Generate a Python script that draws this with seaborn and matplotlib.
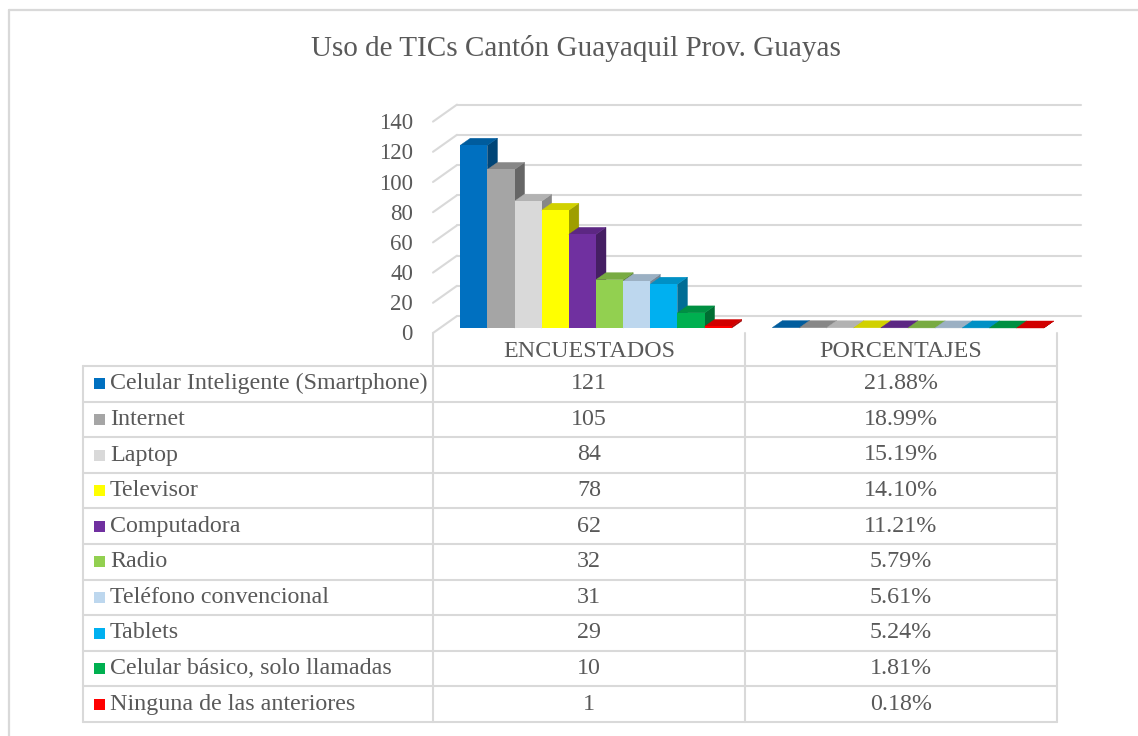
import numpy as np
import pandas as pd
import matplotlib
matplotlib.use("Agg")
import matplotlib.pyplot as plt
import matplotlib.colors as mcolors
import seaborn as sns
from matplotlib.patches import Polygon, Rectangle
from matplotlib.lines import Line2D
from matplotlib.transforms import IdentityTransform

# ---------------- data ----------------
title = "Uso de TICs Cantón Guayaquil Prov. Guayas"
series_names = ["ENCUESTADOS", "PORCENTAJES"]
items = [
    "Celular Inteligente (Smartphone)",
    "Internet",
    "Laptop",
    "Televisor",
    "Computadora",
    "Radio",
    "Teléfono convencional",
    "Tablets",
    "Celular básico, solo llamadas",
    "Ninguna de las anteriores",
]
encuestados = [121, 105, 84, 78, 62, 32, 31, 29, 10, 1]
porcentajes = [0.2188, 0.1899, 0.1519, 0.1410, 0.1121, 0.0579, 0.0561, 0.0524, 0.0181, 0.0018]
colors = ["#0070C0", "#A5A5A5", "#D9D9D9", "#FFFF00", "#7030A0",
          "#92D050", "#BDD7EE", "#00B0F0", "#00B050", "#FF0000"]
yticks = [0, 20, 40, 60, 80, 100, 120, 140]

# ---------------- setup ----------------
W, H = 1138, 736
sns.set_theme(style="white")
plt.rcParams['font.family'] = ['Liberation Serif', 'DejaVu Serif']
TXT = "#595959"
GRID = "#d9d9d9"
FS_TICK = 16.5
FS = 17.3

fig = plt.figure(figsize=(W / 100, H / 100), dpi=100)
fig.patch.set_facecolor("white")
I = IdentityTransform()

# axes in the plane of the bars' front faces
ax_l, ax_r, ax_b, scale = 440, 1064, 328, 1.51
ax_h = 140 * scale
ax = fig.add_axes([ax_l / W, (H - ax_b) / H, (ax_r - ax_l) / W, ax_h / H])

df = pd.DataFrame({
    "serie": np.repeat(series_names, len(items)),
    "item": items * 2,
    "valor": list(encuestados) + list(porcentajes),
})
sns.barplot(data=df, x="serie", y="valor", hue="item", order=series_names,
            hue_order=items, palette=colors, saturation=1, width=0.87,
            dodge=True, legend=False, linewidth=0, ax=ax, errorbar=None)
ax.set_xlim(-0.5, 1.5)
ax.set_ylim(0, 140)
ax.axis("off")

# depth offsets (display px): bar depth, front plane, back wall
BDX, BDY = 10, 7
FDX, FDY = -7, -5
WDX, WDY = 17, 12

xl = ax.transAxes.transform((0, 0))[0]
xr = ax.transAxes.transform((1, 0))[0]

# gridlines & tick labels
for v in yticks:
    yd = ax.transData.transform((0, v))[1]
    fig.add_artist(Line2D([xl + WDX, xr + WDX], [yd + WDY, yd + WDY],
                          color=GRID, lw=1.5, transform=I, zorder=-1))
    fig.add_artist(Line2D([xl + FDX, xl + WDX], [yd + FDY, yd + WDY],
                          color=GRID, lw=1.5, transform=I, zorder=-1))
    fig.text(xl + FDX - 20, yd + FDY - 2, f"{v}", ha="right", va="center",
             fontsize=FS_TICK, color=TXT, transform=I)

# 3D faces for bars
bars = []
for cont, col in zip(ax.containers, colors):
    for p in cont.patches:
        bars.append((p, col))
bars.sort(key=lambda b: b[0].get_x())
for i, (p, col) in enumerate(bars):
    x0, y0 = ax.transData.transform((p.get_x(), 0))
    x1, y1 = ax.transData.transform((p.get_x() + p.get_width(), p.get_height()))
    rgb = np.array(mcolors.to_rgb(col))
    top_c = rgb * 0.82
    side_c = rgb * 0.62
    side = Polygon([(x1, y0), (x1, y1), (x1 + BDX, y1 + BDY), (x1 + BDX, y0 + BDY)],
                   closed=True, facecolor=side_c, edgecolor=side_c, lw=0.3,
                   transform=I, clip_on=False, zorder=2 + 3 * i)
    top = Polygon([(x0, y1), (x1, y1), (x1 + BDX, y1 + BDY), (x0 + BDX, y1 + BDY)],
                  closed=True, facecolor=top_c, edgecolor=top_c, lw=0.3,
                  transform=I, clip_on=False, zorder=3 + 3 * i)
    ax.add_artist(side)
    ax.add_artist(top)
    p.set_zorder(4 + 3 * i)
    p.set_clip_on(False)

# ---------------- data table ----------------
c0 = 83
c1 = xl + FDX
cm = ax.transData.transform((0.5, 0))[0] + FDX
c2 = xr + FDX
head_top = H - 333
row_top = H - 366
rh = 35.6
n = len(items)
row_bot = row_top - n * rh

for k in range(n + 1):
    yy = row_top - k * rh
    fig.add_artist(Line2D([c0, c2], [yy, yy], color=GRID, lw=1.5, transform=I))
fig.add_artist(Line2D([c0, c0], [row_top, row_bot], color=GRID, lw=1.5, transform=I))
for cx in (c1, cm, c2):
    fig.add_artist(Line2D([cx, cx], [head_top, row_bot], color=GRID, lw=1.5, transform=I))

hy = (head_top + row_top) / 2 - 2
fig.text((c1 + cm) / 2, hy, series_names[0], ha="center", va="center",
         fontsize=FS, color=TXT, transform=I)
fig.text((cm + c2) / 2, hy, series_names[1], ha="center", va="center",
         fontsize=FS, color=TXT, transform=I)

for k, (it, e, pc, col) in enumerate(zip(items, encuestados, porcentajes, colors)):
    yc = row_top - (k + 0.5) * rh
    fig.add_artist(Rectangle((94, yc - 5.5), 11, 11, facecolor=col, edgecolor="none",
                             transform=I))
    fig.text(110, yc, it, ha="left", va="center", fontsize=FS, color=TXT, transform=I)
    fig.text((c1 + cm) / 2, yc, f"{e}", ha="center", va="center",
             fontsize=FS, color=TXT, transform=I)
    fig.text((cm + c2) / 2, yc, f"{pc:.2%}", ha="center", va="center",
             fontsize=FS, color=TXT, transform=I)

# title
fig.text(576, H - 48, title, ha="center", va="center", fontsize=21, color=TXT, transform=I)

# chart frame (top & left edges visible)
fig.add_artist(Line2D([9, W], [H - 10, H - 10], color=GRID, lw=1.6, transform=I))
fig.add_artist(Line2D([9, 9], [H - 10, 0], color=GRID, lw=1.6, transform=I))

fig.savefig("out.png", dpi=100, facecolor="white")
